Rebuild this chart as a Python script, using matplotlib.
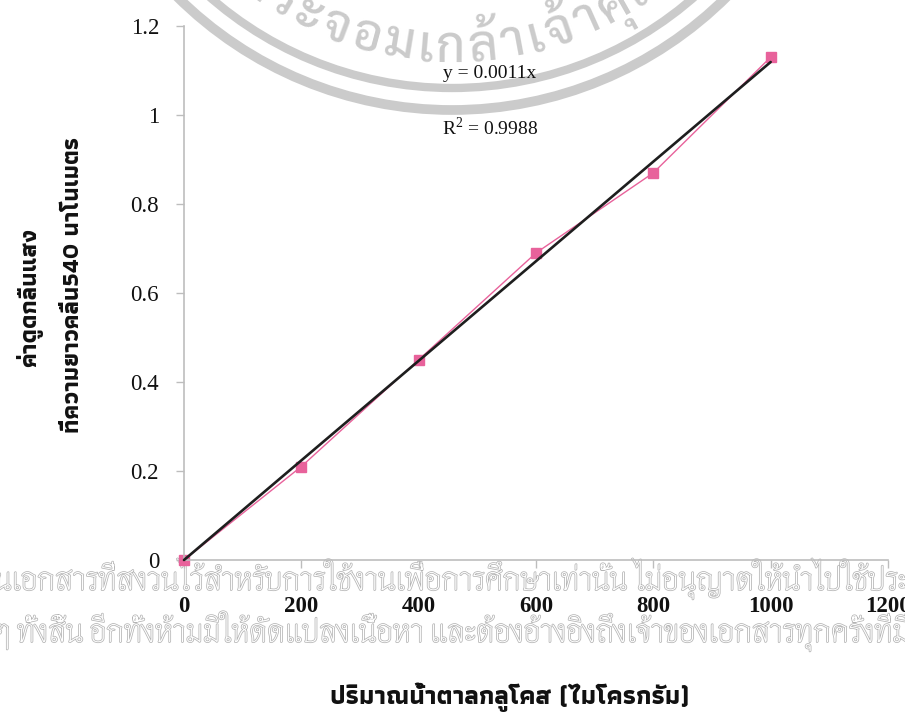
import numpy as np
import matplotlib
matplotlib.use("Agg")
import matplotlib.pyplot as plt
from matplotlib import font_manager, patheffects
from matplotlib.font_manager import FontProperties
from matplotlib.patches import Circle
from matplotlib.textpath import TextToPath, TextPath

# glucose standard curve (DNS method)
glucose_ug = [0, 200, 400, 600, 800, 1000]
absorbance = [0.0, 0.21, 0.45, 0.69, 0.87, 1.13]
r_squared = 0.9988

x_ticks = [0, 200, 400, 600, 800, 1000, 1200]
y_ticks = [0, 0.2, 0.4, 0.6, 0.8, 1.0, 1.2]
y_tick_labels = ["0", "0.2", "0.4", "0.6", "0.8", "1", "1.2"]

x_title = "ปริมาณน้ำตาลกลูโคส (ไมโครกรัม)"
y_title_1 = "ค่าดูดกลืนแสง"
y_title_2 = "ที่ความยาวคลื่น540 นาโนเมตร"

seal_text = "สถาบันเทคโนโลยีพระจอมเกล้าเจ้าคุณทหารลาดกระบัง"
notice_1 = "นเอกสารที่สงวนไว้สำหรับการใช้งานเพื่อการศึกษาเท่านั้น ไม่อนุญาตให้นำไปใช้ประ"
notice_2 = "ๆ ทั้งสิ้น อีกทั้งห้ามมิให้ดัดแปลงเนื้อหา และต้องอ้างอิงถึงเจ้าของเอกสารทุกครั้งที่มี"

W, H, DPI = 905, 728, 100

plt.rcParams["mathtext.fontset"] = "custom"
plt.rcParams["mathtext.rm"] = "Liberation Serif"

installed = {f.name for f in font_manager.fontManager.ttflist}
t2p = TextToPath()


def pick_family(names):
    for n in names:
        if n in installed:
            return n
    return "DejaVu Sans"


def narrowest(names, sample):
    # family whose Thai letters are the most upright for a given line
    best, best_ratio = None, None
    for n in names:
        if n not in installed:
            continue
        fp = FontProperties(family=n, size=10)
        w, _, _ = t2p.get_text_width_height_descent(sample, fp, ismath=False)
        h = TextPath((0, 0), "นอกสาร", prop=fp).get_extents().height
        if h <= 0:
            continue
        if best_ratio is None or w / h < best_ratio:
            best, best_ratio = n, w / h
    return best or "DejaVu Sans"


label_family = pick_family(["Athiti", "Pridi", "Kanit", "Sarabun"])
seal_family = pick_family(["Sarabun", "Niramit", "Kanit"])
notice_family = narrowest(["Sarabun", "Niramit", "Thasadith", "KoHo", "K2D", "Krub",
                           "Bai Jamjuree", "IBM Plex Sans Thai Looped"], notice_1)


def thai_clusters(s):
    # glue Thai combining marks onto the preceding base letter
    marks = {0x0E31} | set(range(0x0E34, 0x0E3B)) | set(range(0x0E47, 0x0E4F))
    out = []
    for ch in s:
        if out and ord(ch) in marks:
            out[-1] += ch
        else:
            out.append(ch)
    return out


fig = plt.figure(figsize=(W / DPI, H / DPI), dpi=DPI, facecolor="white")

# pixel-space layer for the seal and notice text
ov = fig.add_axes([0, 0, 1, 1], zorder=1)
ov.set_xlim(0, W)
ov.set_ylim(H, 0)
ov.axis("off")

seal_grey = "#cbcbcb"
cx, cy = 452, -280
ov.add_patch(Circle((cx, cy), 368, fill=False, lw=6.0, ec=seal_grey, zorder=1))
ov.add_patch(Circle((cx, cy), 390, fill=False, lw=7.0, ec=seal_grey, zorder=1))

# seal lettering along the bottom of the circle
seal_fp = FontProperties(family=seal_family, weight="medium", size=36)
clusters = thai_clusters(seal_text)
widths = []
for c in clusters:
    w, _, _ = t2p.get_text_width_height_descent(c, seal_fp, ismath=False)
    widths.append(w * DPI / 72)
r_text = 342

# spread the letters so that "ร" of พระ and "คุ" land at the chosen angles
i_first = clusters.index("ร", clusters.index("พ"))
i_last = clusters.index("คุ")
th_first, th_last = np.radians(-31.0), np.radians(29.5)
base = sum(widths[i_first:i_last]) - widths[i_first] / 2 + widths[i_last] / 2
tracking = ((th_last - th_first) * r_text - base) / (i_last - i_first)
centres = []
pos = 0.0
for w in widths:
    centres.append(pos + w / 2)
    pos += w + tracking
shift = centres[i_first] - th_first * r_text
for c, s in zip(clusters, centres):
    th = (s - shift) / r_text
    if abs(th) > np.radians(55):
        continue
    ov.text(cx + r_text * np.sin(th), cy + r_text * np.cos(th), c,
            fontproperties=seal_fp, color=seal_grey, rotation=np.degrees(th),
            rotation_mode="anchor", ha="center", va="baseline", zorder=2)

# outlined notice lines across the lower part
outline = [patheffects.Stroke(linewidth=1.1, foreground="#b4b4b4"), patheffects.Normal()]
for txt, base_y in [(notice_1, 590), (notice_2, 642)]:
    fp = FontProperties(family=notice_family, weight="regular", size=10)
    w10, _, _ = t2p.get_text_width_height_descent(txt, fp, ismath=False)
    fp.set_size(10 * (W + 10) / (w10 * DPI / 72))
    ov.text(W / 2, base_y, txt, fontproperties=fp, color="white", ha="center",
            va="baseline", path_effects=outline, zorder=2)

# main chart
ax = fig.add_axes([184 / W, 1 - 560 / H, (888 - 184) / W, (560 - 26) / H], zorder=2)
ax.set_facecolor("none")

ax.plot(glucose_ug, absorbance, color="#e8629b", lw=1.0, marker="s", ms=6.5,
        mec="#e8629b", clip_on=False, zorder=2)

slope = np.dot(glucose_ug, absorbance) / np.dot(glucose_ug, glucose_ug)
fit_x = np.array([glucose_ug[0], glucose_ug[-1]])
ax.plot(fit_x, slope * fit_x, color="#1e1e1e", lw=1.9, solid_capstyle="round",
        clip_on=False, zorder=3)

ax.set_xlim(0, 1200)
ax.set_ylim(0, 1.2)
ax.set_xticks(x_ticks)
ax.set_yticks(y_ticks)
ax.set_yticklabels(y_tick_labels)
for side in ["top", "right"]:
    ax.spines[side].set_visible(False)
for side in ["left", "bottom"]:
    ax.spines[side].set_color("#bdbdbd")
    ax.spines[side].set_linewidth(1.2)
ax.tick_params(axis="both", direction="out", length=6, width=1.0, color="#bdbdbd",
               labelsize=16.5, labelcolor="#111111")
ax.tick_params(axis="x", pad=20)
ax.tick_params(axis="y", pad=12)
for lab in ax.get_xticklabels():
    lab.set_family("Liberation Serif")
    lab.set_fontweight("bold")
for lab in ax.get_yticklabels():
    lab.set_family("Liberation Serif")

# trendline equation
ov.text(490, 73, "y = %.4fx" % slope, family="Liberation Serif", fontsize=14,
        color="#111111", ha="center", va="center", zorder=5)
ov.text(490, 128, "R$^2$ = %.4f" % r_squared, family="Liberation Serif", fontsize=14,
        color="#111111", ha="center", va="center", zorder=5)

# axis titles
ov.text(510, 697, x_title, family=label_family, weight="bold", fontsize=18.5,
        color="#111111", ha="center", va="center", zorder=5)
ov.text(30, 297, y_title_1, family=label_family, weight="bold", fontsize=17,
        color="#111111", rotation=90, ha="center", va="center", zorder=5)
ov.text(73, 285, y_title_2, family=label_family, weight="bold", fontsize=17,
        color="#111111", rotation=90, ha="center", va="center", zorder=5)

fig.savefig("out.png", dpi=DPI, facecolor="white")
